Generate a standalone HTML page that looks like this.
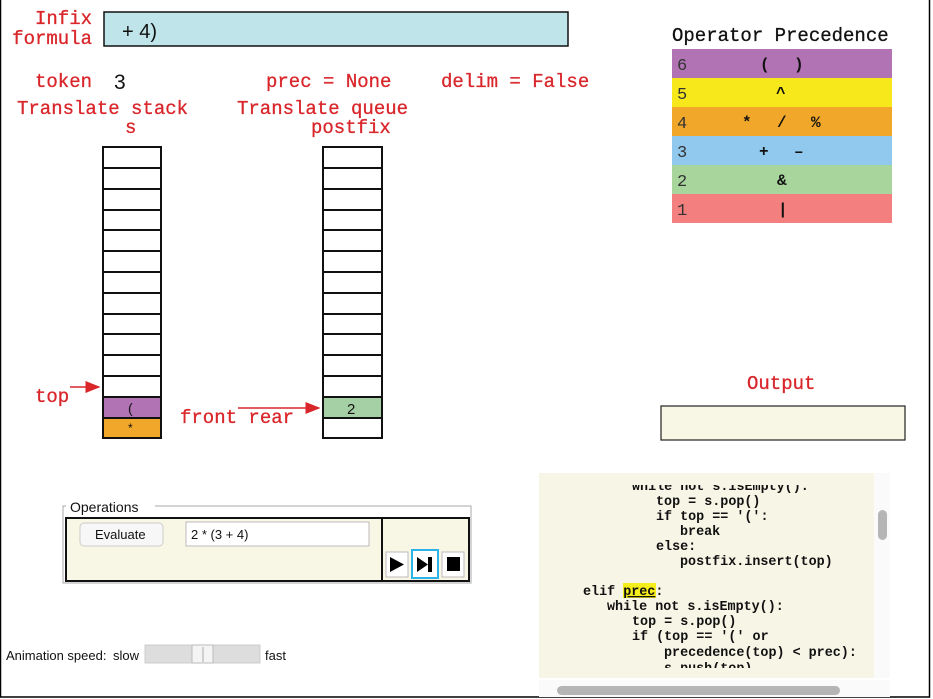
<!DOCTYPE html>
<html><head><meta charset="utf-8"><style>
body{margin:0;background:#fff}
svg{display:block}
.r{fill:#d9262b;font-family:"Liberation Mono",monospace;font-size:19px;stroke:#d9262b;stroke-width:0.3}
.m{font-family:"Liberation Mono",monospace;font-weight:bold;font-size:13.4px;fill:#111}
.s{font-family:"Liberation Sans",sans-serif}
</style></head><body>
<svg width="933" height="699" viewBox="0 0 933 699" xmlns="http://www.w3.org/2000/svg">
<defs><marker id="a" markerWidth="10" markerHeight="8" refX="9" refY="4" orient="auto"><path d="M0,0 L10,4 L0,8 z" fill="#d9262b"/></marker>
<clipPath id="c"><rect x="539" y="485" width="340" height="20"/></clipPath><clipPath id="d"><rect x="539" y="660" width="340" height="8"/></clipPath></defs>
<rect x="0.5" y="-2" width="929" height="699" fill="none" stroke="#000" stroke-width="1.5"/>
<text class="r" x="92" y="24" text-anchor="end">Infix</text>
<text class="r" x="92" y="44" text-anchor="end">formula</text>
<rect x="104" y="12" width="464" height="34" fill="#bfe5ea" stroke="#111" stroke-width="1.5"/>
<text class="s" x="122" y="38" font-size="20" fill="#111">+ 4)</text>
<text class="r" x="35" y="87">token</text>
<text class="s" x="114" y="89" font-size="21" fill="#111">3</text>
<text class="r" x="266" y="87">prec = None</text>
<text class="r" x="441" y="87">delim = False</text>
<text class="r" x="17" y="114">Translate stack</text>
<text class="r" x="125" y="133">s</text>
<text class="r" x="237" y="114">Translate queue</text>
<text class="r" x="311" y="133">postfix</text>
<g stroke="#111" stroke-width="2" fill="#fff">
<rect x="103" y="147" width="58" height="291"/>
<rect x="323" y="147" width="59" height="291"/>
</g>
<rect x="104" y="397" width="56" height="20" fill="#b173b4"/>
<rect x="104" y="418" width="56" height="19" fill="#f1a82a"/>
<rect x="324" y="397" width="57" height="20" fill="#a5d0a5"/>
<g stroke="#111" stroke-width="2">
<path d="M103 168H161M103 189H161M103 210H161M103 230H161M103 251H161M103 272H161M103 293H161M103 314H161M103 334H161M103 355H161M103 376H161M103 397H161M103 418H161"/>
<path d="M323 168H382M323 189H382M323 210H382M323 230H382M323 251H382M323 272H382M323 293H382M323 314H382M323 334H382M323 355H382M323 376H382M323 397H382M323 418H382"/>
</g>
<text class="s" x="128" y="413" font-size="14" fill="#111">(</text>
<text class="s" x="128" y="432" font-size="12" fill="#111">*</text>
<text class="s" x="347" y="414" font-size="15" fill="#111">2</text>
<text class="r" x="35" y="402">top</text>
<line x1="70" y1="387" x2="99" y2="387" stroke="#d9262b" stroke-width="1.5" marker-end="url(#a)"/>
<text class="r" x="180" y="423">front rear</text>
<line x1="238" y1="408" x2="319" y2="408" stroke="#d9262b" stroke-width="1.5" marker-end="url(#a)"/>
<text x="672" y="41" font-family="Liberation Mono,monospace" font-size="19" fill="#111" stroke="#111" stroke-width="0.3">Operator Precedence</text>
<rect x="672" y="49" width="220" height="29" fill="#b173b4"/>
<rect x="672" y="78" width="220" height="29" fill="#f7e81b"/>
<rect x="672" y="107" width="220" height="29" fill="#f1a82a"/>
<rect x="672" y="136" width="220" height="29" fill="#91c9ee"/>
<rect x="672" y="165" width="220" height="29" fill="#a7d59c"/>
<rect x="672" y="194" width="220" height="29" fill="#f47f7f"/>
<g font-family="Liberation Mono,monospace" font-size="17" fill="#333">
<text x="677" y="70">6</text><text x="677" y="99">5</text><text x="677" y="128">4</text><text x="677" y="157">3</text><text x="677" y="186">2</text><text x="677" y="215">1</text>
<g font-weight="bold" fill="#111" font-size="16">
<text x="760" y="69">(</text><text x="794" y="69">)</text>
<text x="776" y="98">^</text>
<text x="742" y="127">*</text><text x="777" y="127">/</text><text x="811" y="127">%</text>
<text x="759" y="156">+</text><text x="794" y="156">–</text>
<text x="777" y="185">&amp;</text>
<text x="778" y="214">|</text>
</g></g>
<text class="r" x="747" y="389">Output</text>
<rect x="661" y="406" width="244" height="34" fill="#f8f6e4" stroke="#222" stroke-width="1.2"/>
<rect x="539" y="473" width="335" height="205" fill="#f7f5e5"/>
<rect x="874" y="473" width="16" height="205" fill="#fafafa"/>
<rect x="878" y="510" width="9" height="30" rx="4.5" fill="#b5b5b5"/>
<rect x="539" y="680" width="351" height="17" fill="#fafafa"/>
<rect x="557" y="686" width="283" height="9" rx="4.5" fill="#b5b5b5"/>
<g class="m">
<text x="632" y="490" clip-path="url(#c)">while not s.isEmpty():</text>
<text x="656" y="505">top = s.pop()</text>
<text x="656" y="520">if top == '(':</text>
<text x="680" y="535">break</text>
<text x="656" y="550">else:</text>
<text x="680" y="565">postfix.insert(top)</text>
<rect x="623" y="583" width="33" height="15" fill="#f5ee1a"/>
<text x="583" y="595">elif <tspan text-decoration="underline">prec</tspan>:</text>
<text x="607" y="610">while not s.isEmpty():</text>
<text x="632" y="625">top = s.pop()</text>
<text x="632" y="640">if (top == '(' or</text>
<text x="664" y="656">precedence(top) &lt; prec):</text>
<text x="664" y="672" clip-path="url(#d)">s.push(top)</text>
</g>
<path d="M66 506H63V583H471V506H155" fill="none" stroke="#aaa" stroke-width="1"/>
<text class="s" x="70" y="512" font-size="14" fill="#111">Operations</text>
<rect x="66" y="518" width="403" height="63" fill="#f8f6e4" stroke="#111" stroke-width="2"/>
<line x1="382" y1="518" x2="382" y2="581" stroke="#111" stroke-width="2"/>
<rect x="80" y="523" width="83" height="23" rx="4" fill="#f7f7f7" stroke="#ccc"/>
<text class="s" x="95" y="539" font-size="13" fill="#111">Evaluate</text>
<rect x="186" y="522" width="183" height="24" fill="#fff" stroke="#bbb"/>
<text class="s" x="191" y="539" font-size="13" fill="#111">2 * (3 + 4)</text>
<rect x="386" y="552" width="22" height="25" fill="#fff" stroke="#bbb"/>
<path d="M390 557L404 564.5L390 572z" fill="#000"/>
<rect x="412" y="550" width="26" height="28" fill="#fff" stroke="#2cb3e8" stroke-width="2"/>
<path d="M417 557L428 564.5L417 572z M428 557h4v15h-4z" fill="#000"/>
<rect x="442" y="552" width="22" height="25" fill="#fff" stroke="#bbb"/>
<rect x="447" y="557" width="13" height="14" fill="#000"/>
<text class="s" x="6" y="660" font-size="13" fill="#111">Animation speed:</text>
<text class="s" x="113" y="660" font-size="13" fill="#111">slow</text>
<rect x="145" y="645" width="115" height="18" fill="#ddd" stroke="#ccc"/>
<rect x="192" y="645" width="21" height="18" fill="#f4f4f4" stroke="#bbb"/>
<line x1="203" y1="647" x2="203" y2="662" stroke="#aaa"/>
<text class="s" x="265" y="660" font-size="13" fill="#111">fast</text>
</svg>
</body></html>
